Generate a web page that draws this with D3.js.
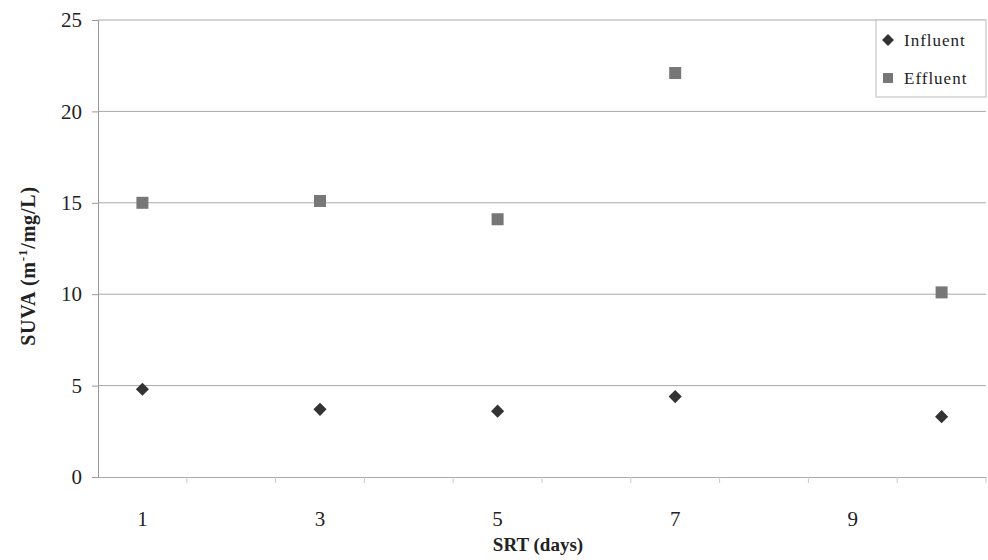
<!DOCTYPE html>
<html><head><meta charset="utf-8">
<script src="https://cdn.jsdelivr.net/npm/d3@7"></script>
<style>body{margin:0;background:#fff}svg{display:block}</style>
</head><body><svg id="c" width="988" height="560"></svg>
<script>
const categories = [1,2,3,4,5,6,7,8,9,10];
const xLabels = [1,3,5,7,9];
const yTicks = [0,5,10,15,20,25];
const influentX = [1,3,5,7,10];
const influent = [4.8,3.7,3.6,4.4,3.3];
const effluentX = [1,3,5,7,10];
const effluent = [15.0,15.1,14.1,22.1,10.1];

const svg = d3.select('#c');
const m = {l:98, r:986, t:20, b:477};
const x = d3.scaleBand().domain(categories).range([m.l, m.r]);
const y = d3.scaleLinear().domain([0,25]).range([m.b, m.t]);
const font = "'Liberation Serif','Times New Roman',serif";

// gridlines
svg.append('g').selectAll('line').data(yTicks.filter(d=>d>0)).join('line')
  .attr('x1', m.l).attr('x2', m.r).attr('y1', d=>y(d)).attr('y2', d=>y(d))
  .attr('stroke','#a8a8a8').attr('stroke-width',1);

// y axis
const ya = svg.append('g').attr('transform',`translate(${m.l},0)`)
  .call(d3.axisLeft(y).tickValues(yTicks).tickSize(6).tickPadding(10));
ya.select('.domain').attr('stroke','#999');
ya.selectAll('.tick line').attr('stroke','#999');
ya.selectAll('text').attr('font-family',font).attr('font-size',21).attr('fill','#222');

// x axis
const xa = svg.append('g').attr('transform',`translate(0,${m.b})`)
  .call(d3.axisBottom(x).tickValues(xLabels).tickSize(0).tickPadding(34));
xa.select('.domain').attr('stroke','#aaa');
xa.selectAll('text').attr('font-family',font).attr('font-size',21).attr('fill','#222');
// boundary tick marks between categories
svg.append('g').selectAll('line').data(categories).join('line')
  .attr('x1', d=>x(d)+x.bandwidth()).attr('x2', d=>x(d)+x.bandwidth())
  .attr('y1', m.b).attr('y2', m.b+6).attr('stroke','#ccc');

// axis titles
svg.append('text').attr('x', 538).attr('y', 551).attr('text-anchor','middle')
  .attr('font-family',font).attr('font-size',19).attr('font-weight','bold').attr('fill','#222')
  .text('SRT (days)');
const yt = svg.append('text').attr('transform','translate(35,266) rotate(-90)').attr('text-anchor','middle')
  .attr('font-family',font).attr('font-size',20).attr('font-weight','bold').attr('fill','#222')
  .attr('letter-spacing',0.8);
yt.append('tspan').text('SUVA (m');
yt.append('tspan').attr('dy',-8).attr('font-size',13).text('-1');
yt.append('tspan').attr('dy',8).text('/mg/L)');

// markers
const cx = d => x(d) + x.bandwidth()/2;
const diamond = d3.symbol().type(d3.symbolDiamond2).size(110);
svg.append('g').selectAll('path').data(influent).join('path')
  .attr('d', diamond).attr('transform',(d,i)=>`translate(${cx(influentX[i])},${y(d)})`)
  .attr('fill','#333');
svg.append('g').selectAll('rect').data(effluent).join('rect')
  .attr('x',(d,i)=>cx(effluentX[i])-6).attr('y', d=>y(d)-6).attr('width',12).attr('height',12)
  .attr('fill','#777');

// legend
const lg = svg.append('g');
lg.append('rect').attr('x',876).attr('y',20).attr('width',110).attr('height',77)
  .attr('fill','#fff').attr('stroke','#bbb');
lg.append('path').attr('d', d3.symbol().type(d3.symbolDiamond2).size(90)).attr('transform','translate(888,40)').attr('fill','#333');
lg.append('rect').attr('x',883).attr('y',73).attr('width',10).attr('height',10).attr('fill','#777');
lg.append('text').attr('x',904).attr('y',46).attr('font-family',font).attr('font-size',17)
  .attr('letter-spacing',1).attr('fill','#222').text('Influent');
lg.append('text').attr('x',904).attr('y',84).attr('font-family',font).attr('font-size',17)
  .attr('letter-spacing',1).attr('fill','#222').text('Effluent');
</script></body></html>
